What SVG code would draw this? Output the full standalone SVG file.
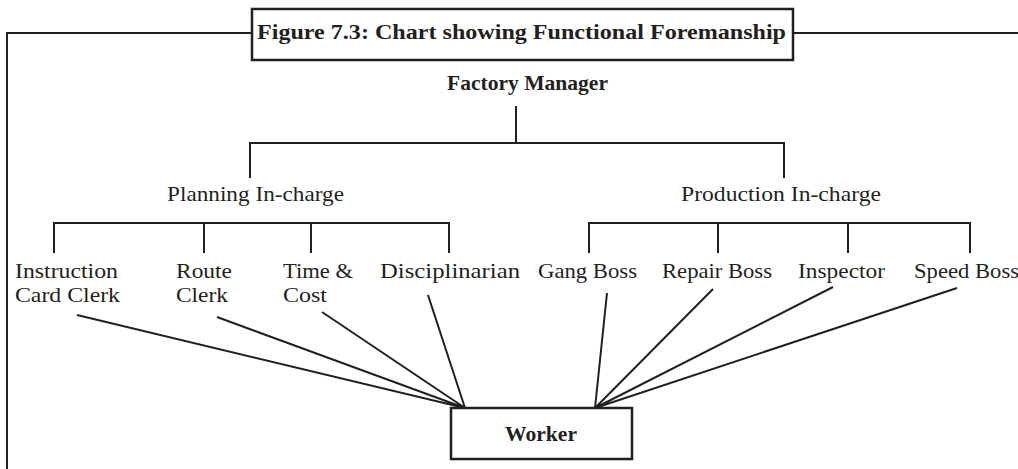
<svg xmlns="http://www.w3.org/2000/svg" width="1018" height="469" viewBox="0 0 1018 469">
<style>
.ln{stroke:#231f20;stroke-width:2;fill:none}
.box{stroke:#231f20;stroke-width:2.5;fill:#fff}
.t{font-family:"Liberation Serif",serif;font-size:22px;fill:#231f20}
.b{font-family:"Liberation Serif",serif;font-size:21px;font-weight:bold;fill:#231f20}
</style>
<rect width="1018" height="469" fill="#fff"/>
<g id="frame">
<path class="ln" d="M7,469 V33 H252 M793,33 H1018"/>
</g>
<g id="title">
<rect class="box" x="252" y="9" width="541" height="51"/>
<text class="b" x="257" y="39" style="font-size:22px" textLength="529" lengthAdjust="spacingAndGlyphs">Figure 7.3: Chart showing Functional Foremanship</text>
</g>
<g id="connectors">
<path class="ln" d="M516,106 V143 M250,178 V143 H784 V178"/>
<path class="ln" d="M54,253 V223 H449 V253 M204,223 V253 M311,223 V253"/>
<path class="ln" d="M589,253 V223 H970 V253 M718,223 V253 M848,223 V253"/>
<path class="ln" d="M77,315 L465,408 M217,317 L465,408 M322,312 L465,408 M428,295 L465,408"/>
<path class="ln" d="M607,293 L595,408 M713,289 L595,408 M833,287 L595,408 M957,288 L595,408"/>
</g>
<g id="factory-manager"><text class="b" x="447" y="90" textLength="161" lengthAdjust="spacingAndGlyphs">Factory Manager</text></g>
<g id="planning"><text class="t" x="167" y="201" textLength="177" lengthAdjust="spacingAndGlyphs">Planning In-charge</text></g>
<g id="production"><text class="t" x="681" y="201" textLength="200" lengthAdjust="spacingAndGlyphs">Production In-charge</text></g>
<g id="instruction-card-clerk"><text class="t" x="15" y="278" textLength="103" lengthAdjust="spacingAndGlyphs">Instruction</text><text class="t" x="15" y="302" textLength="105" lengthAdjust="spacingAndGlyphs">Card Clerk</text></g>
<g id="route-clerk"><text class="t" x="176" y="278" textLength="56" lengthAdjust="spacingAndGlyphs">Route</text><text class="t" x="176" y="302" textLength="52" lengthAdjust="spacingAndGlyphs">Clerk</text></g>
<g id="time-cost"><text class="t" x="283" y="278" textLength="70" lengthAdjust="spacingAndGlyphs">Time &amp;</text><text class="t" x="283" y="302" textLength="44" lengthAdjust="spacingAndGlyphs">Cost</text></g>
<g id="disciplinarian"><text class="t" x="380" y="278" textLength="140" lengthAdjust="spacingAndGlyphs">Disciplinarian</text></g>
<g id="gang-boss"><text class="t" x="538" y="278" textLength="99" lengthAdjust="spacingAndGlyphs">Gang Boss</text></g>
<g id="repair-boss"><text class="t" x="662" y="278" textLength="110" lengthAdjust="spacingAndGlyphs">Repair Boss</text></g>
<g id="inspector"><text class="t" x="798" y="278" textLength="87" lengthAdjust="spacingAndGlyphs">Inspector</text></g>
<g id="speed-boss"><text class="t" x="914" y="278" textLength="105" lengthAdjust="spacingAndGlyphs">Speed Boss</text></g>
<g id="worker">
<rect class="box" x="451" y="408" width="181" height="51"/>
<text class="b" x="541" y="441" text-anchor="middle" textLength="72" lengthAdjust="spacingAndGlyphs">Worker</text>
</g>
</svg>
